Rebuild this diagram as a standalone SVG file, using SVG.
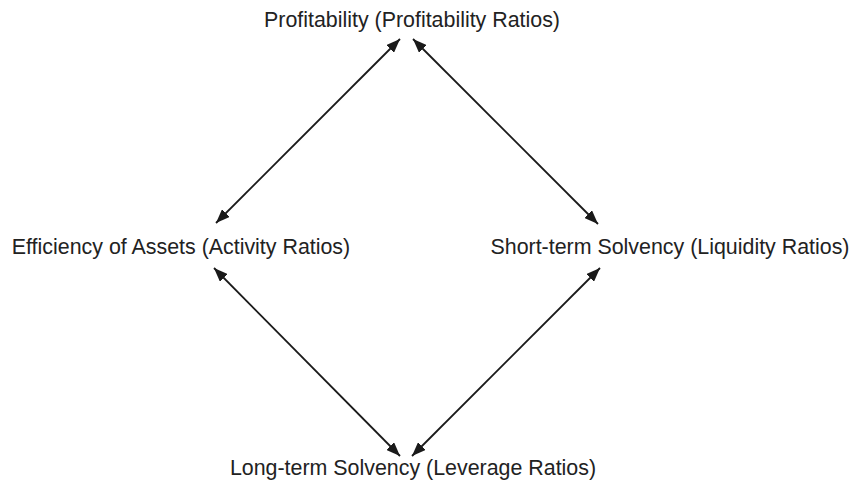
<svg xmlns="http://www.w3.org/2000/svg" width="852" height="489" viewBox="0 0 852 489">
<defs>
<marker id="ah" viewBox="0 0 14 11" refX="14" refY="5.5" markerWidth="14" markerHeight="11" markerUnits="userSpaceOnUse" orient="auto-start-reverse">
<path d="M0,0 L14,5.5 L0,11 z" fill="#1a1a1a"/>
</marker>
<style>
.t{font-family:"Liberation Sans",Arial,sans-serif;font-size:21.4px;fill:#222;text-anchor:middle}
.c line{stroke:#1a1a1a;stroke-width:1.8;marker-start:url(#ah);marker-end:url(#ah)}
</style>
</defs>
<rect width="852" height="489" fill="#fff"/>
<g id="profitability"><text class="t" x="412" y="27">Profitability (Profitability Ratios)</text></g>
<g id="efficiency"><text class="t" x="181" y="254">Efficiency of Assets (Activity Ratios)</text></g>
<g id="short-term"><text class="t" x="670" y="254">Short-term Solvency (Liquidity Ratios)</text></g>
<g id="long-term"><text class="t" x="413" y="475">Long-term Solvency (Leverage Ratios)</text></g>
<g class="c" id="connectors">
<line x1="400" y1="39" x2="216" y2="223"/>
<line x1="413" y1="39" x2="598" y2="224"/>
<line x1="214" y1="268" x2="400" y2="456"/>
<line x1="600" y1="268" x2="412" y2="456"/>
</g>
</svg>
